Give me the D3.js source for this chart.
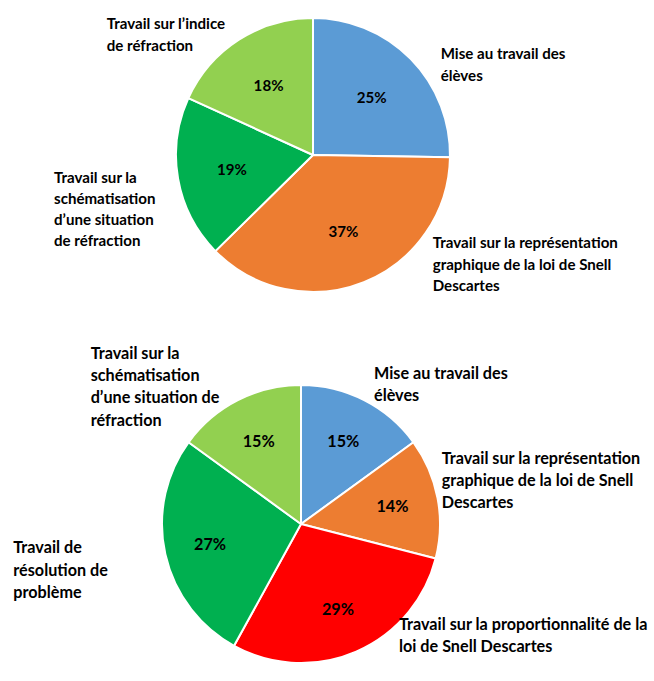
<!DOCTYPE html>
<html>
<head>
<meta charset="utf-8">
<script src="https://cdn.jsdelivr.net/npm/d3@7"></script>
<style>
    body { margin: 0; background: #ffffff; }
    text { font-family: Lato, "Open Sans", sans-serif; font-weight: bold; fill: #000000; }
</style>
</head>
<body>
<svg id="canvas" width="654" height="681"></svg>
<script>
// chart 1
let pie1Categories = [
    'Mise au travail des\nélèves',
    'Travail sur la représentation\ngraphique de la loi de Snell\nDescartes',
    'Travail sur la\nschématisation\nd’une situation\nde réfraction',
    'Travail sur l’indice\nde réfraction'
];
let pie1Values = [25, 37, 19, 18];
let pie1Colors = ['#5B9BD5', '#ED7D31', '#00B050', '#92D050'];

// chart 2
let pie2Categories = [
    'Mise au travail des\nélèves',
    'Travail sur la représentation\ngraphique de la loi de Snell\nDescartes',
    'Travail sur la proportionnalité de la\nloi de Snell Descartes',
    'Travail de\nrésolution de\nproblème',
    'Travail sur la\nschématisation\nd’une situation de\nréfraction'
];
let pie2Values = [15, 14, 29, 27, 15];
let pie2Colors = ['#5B9BD5', '#ED7D31', '#FF0000', '#00B050', '#92D050'];

// layout (label boxes were placed by hand in the original)
let pie1Layout = {
    cx: 313, cy: 155, r: 137, labelR: 0.6, fontSize: 15.1, lineGap: 21.2,
    labelPos: [[440.7, 59.3], [432.7, 248.3], [54, 182.7], [106.7, 29.3]]
};
let pie2Layout = {
    cx: 301, cy: 524, r: 139, labelR: 0.67, fontSize: 16.2, lineGap: 22.2,
    labelPos: [[374, 378.5], [441.7, 464], [399, 629.5], [13.3, 553.3], [90.7, 359]]
};

let canvas = d3.select('#canvas');

let drawPie = (categories, values, colors, layout) => {
    let slices = d3.pie().sort(null).value((d) => d)(values);

    let arc = d3.arc().innerRadius(0).outerRadius(layout.r);
    let labelArc = d3.arc()
        .innerRadius(layout.r * layout.labelR)
        .outerRadius(layout.r * layout.labelR);

    let g = canvas.append('g')
        .attr('transform', 'translate(' + layout.cx + ',' + layout.cy + ')');

    g.selectAll('path')
        .data(slices)
        .enter()
        .append('path')
        .attr('d', arc)
        .attr('fill', (d, i) => colors[i])
        .attr('stroke', '#ffffff')
        .attr('stroke-width', 2)
        .attr('stroke-linejoin', 'round');

    g.selectAll('text.pct')
        .data(slices)
        .enter()
        .append('text')
        .attr('class', 'pct')
        .attr('transform', (d) => 'translate(' + labelArc.centroid(d) + ')')
        .attr('text-anchor', 'middle')
        .attr('dy', '0.36em')
        .style('font-size', layout.fontSize + 'px')
        .text((d) => d.data + '%');

    // category labels, left aligned blocks
    categories.forEach((cat, i) => {
        let pos = layout.labelPos[i];
        let t = canvas.append('text')
            .attr('x', pos[0])
            .attr('y', pos[1])
            .style('font-size', layout.fontSize + 'px');
        cat.split('\n').forEach((line, j) => {
            t.append('tspan')
                .attr('x', pos[0])
                .attr('y', pos[1] + j * layout.lineGap)
                .text(line);
        });
    });
};

drawPie(pie1Categories, pie1Values, pie1Colors, pie1Layout);
drawPie(pie2Categories, pie2Values, pie2Colors, pie2Layout);
</script>
</body>
</html>
